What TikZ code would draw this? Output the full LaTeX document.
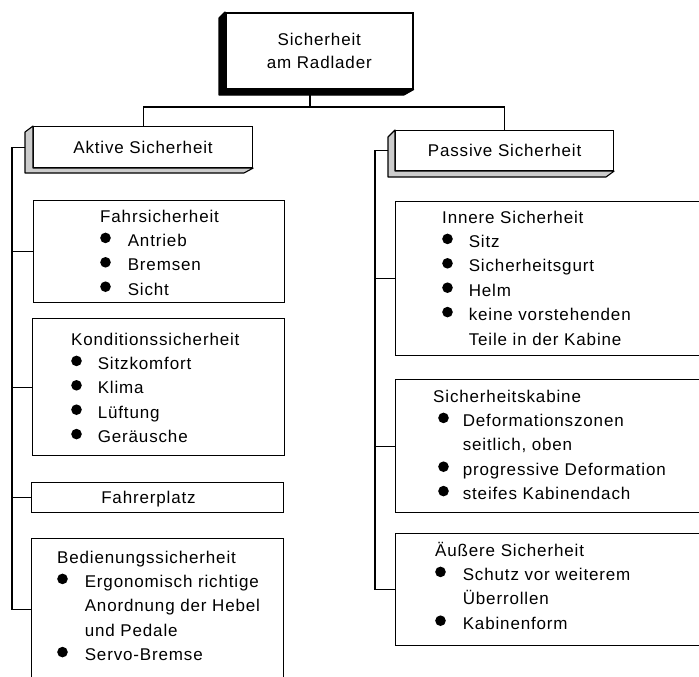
\documentclass[tikz,border=0pt]{standalone}
\usepackage{fontspec}
\setmainfont{Liberation Sans}[LetterSpace=5]
\newcommand\blt{\tikz[baseline={(0pt,-8.5pt)}]\fill (0pt,0pt) circle (5.3pt);}
\newcommand\blist[4]{\begin{tabular}[t]{@{\hspace{#1pt}}l@{\hspace{#2pt}}l@{}}\multicolumn{2}{@{}l@{}}{#3}\\#4\end{tabular}}
\begin{document}
\begin{tikzpicture}[x=1pt,y=-1pt,line width=1.1pt,
  every node/.style={font=\fontsize{17}{24.4}\selectfont},
  box/.style={draw,rectangle,inner sep=0pt,anchor=north west,fill=white},
  bx/.style n args={2}{box,minimum width=#1pt,minimum height=#2pt},
  txt/.style={anchor=base west,inner sep=0pt},
  side/.style={draw,fill=gray!40,line join=round}]
\useasboundingbox (0,0) rectangle (699,677);
\clip (0,0) rectangle (699,677);

% level 1 and 2 boxes
\node[bx={187}{76},line width=1.6pt,align=center,font=\fontsize{17}{23}\selectfont] (top) at (225,12) {Sicherheit\\am Radlader};
\node[bx={219}{41}] (act) at (33,126) {Aktive Sicherheit};
\node[bx={218}{40}] (pas) at (395,130) {Passive Sicherheit};

% connectors from the top box
\coordinate (fork) at (310,107);
\draw (fork |- top.south) -- (fork);
\draw (act.north) |- (fork) -| (pas.north);

% black depth of top box
\filldraw[black,line join=round] (top.north west) -- ++(-6,6) -- ++(0,77) -- ++(185,0) -- (top.south east) -- (top.south west) -- cycle;

% stippled depth of level-2 boxes
\filldraw[side] (act.north west) -- ++(-8,6) -- ++(0,41) -- ++(219,0) -- (act.south east) -- (act.south west) -- cycle;
\filldraw[side] (pas.north west) -- ++(-7,7) -- ++(0,40) -- ++(218,0) -- (pas.south east) -- (pas.south west) -- cycle;

% left column
\node[bx={251}{102}] (fahr) at (33,200) {};
\node[bx={252}{137}] (kond) at (32,318) {};
\node[bx={252}{30}] (platz) at (31,482) {};
\node[bx={252}{142}] (bed) at (31,538) {};

\node[txt] (fahrt) at (100,222) {\blist{0}{17}{Fahrsicherheit}{\blt & Antrieb\\ \blt & Bremsen\\ \blt & Sicht}};
\node[txt] (kondt) at (71,345) {\blist{0}{16}{Konditionssicherheit}{\blt & Sitzkomfort\\ \blt & Klima\\ \blt & Lüftung\\ \blt & Geräusche}};
\node[anchor=base,inner sep=0pt] (platzt) at (148.5,503) {Fahrerplatz};
\node[txt] (bedt) at (57,563) {\blist{0}{17}{Bedienungssicherheit}{\blt & Ergonomisch richtige\\ & Anordnung der Hebel\\ & und Pedale\\ \blt & Servo-Bremse}};

\draw (act.west) ++(-8,0) -- ++(-13,0) coordinate (tl) |- (bed.west);
\draw (tl) |- (fahr.west);
\draw (tl) |- (kond.west);
\draw (tl) |- (platz.west);

% right column
\node[bx={320}{154}] (inn) at (395,201) {};
\node[bx={320}{133}] (kab) at (395,379) {};
\node[bx={320}{112}] (aus) at (395,533) {};

\node[txt] (innt) at (442,223) {\blist{0}{16}{Innere Sicherheit}{\blt & Sitz\\ \blt & Sicherheitsgurt\\ \blt & Helm\\ \blt & keine vorstehenden\\ & Teile in der Kabine}};
\node[txt] (kabt) at (433,402) {\blist{5}{14}{Sicherheitskabine}{\blt & Deformationszonen\\ & seitlich, oben\\ \blt & progressive Deformation\\ \blt & steifes Kabinendach}};
\node[txt] (aust) at (435,556) {\blist{0}{17}{Äußere Sicherheit}{\blt & Schutz vor weiterem\\ & Überrollen\\ \blt & Kabinenform}};

\draw (pas.west) ++(-7,0) -- ++(-13,0) coordinate (tr) |- (aus.west);
\draw (tr) |- (inn.west);
\draw (tr) |- (kab.west);
\end{tikzpicture}
\end{document}
